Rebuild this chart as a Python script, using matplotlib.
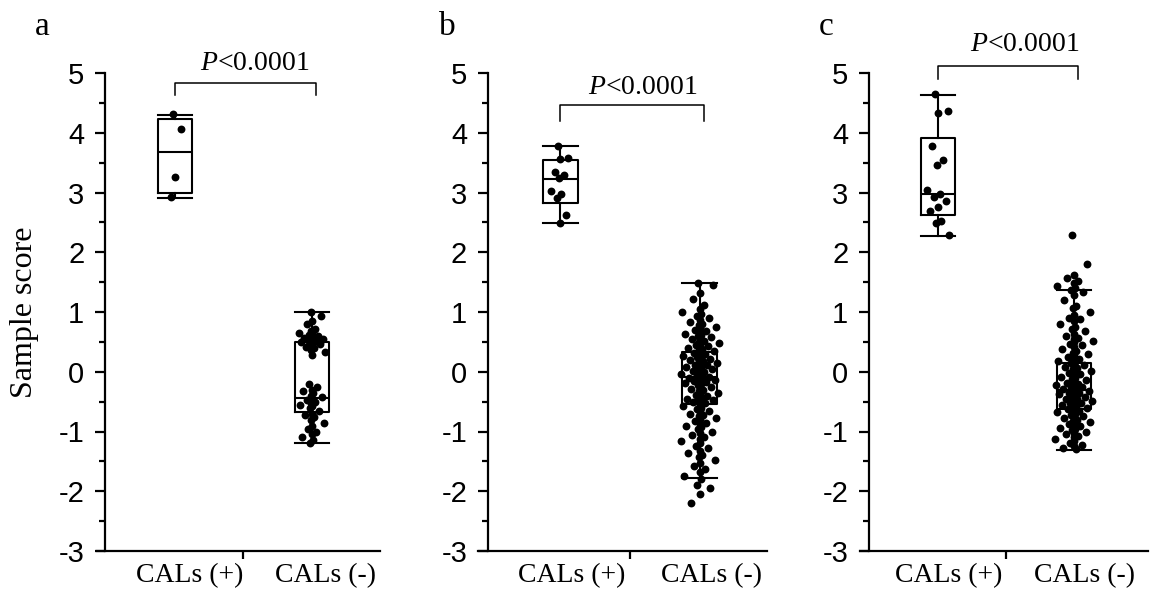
import matplotlib
matplotlib.use("Agg")
import matplotlib.pyplot as plt
import numpy as np

# ---------------- data ----------------
categories = ["CALs (+)", "CALs (-)"]
panel_letters = ["a", "b", "c"]
p_text = "$P$<0.0001"

a_pos = [4.32, 4.07, 3.26, 2.93]
a_neg = [1.0, 0.93, 0.85, 0.8, 0.72, 0.68, 0.65, 0.63, 0.62, 0.6, 0.58, 0.57, 0.56,
         0.55, 0.55, 0.54, 0.53, 0.52, 0.5, 0.5, 0.49, 0.48, 0.46, 0.45, 0.42, 0.4,
         0.37, 0.33, 0.28, -0.2, -0.25, -0.3, -0.33, -0.36, -0.4, -0.42, -0.45,
         -0.47, -0.5, -0.52, -0.55, -0.58, -0.6, -0.65, -0.7, -0.72, -0.75, -0.8,
         -0.85, -0.9, -0.95, -1.0, -1.05, -1.1, -1.15, -1.2]
b_pos = [3.78, 3.58, 3.56, 3.35, 3.30, 3.25, 3.03, 2.97, 2.90, 2.63, 2.49]
b_neg = [1.49, 1.45, 1.32, 1.22, 1.12, 1.05, 1.0,
         0.97, 0.93, 0.9, 0.86, 0.83, 0.8, 0.78, 0.75, 0.72, 0.7,
         0.68, 0.66, 0.64, 0.62, 0.6, 0.58, 0.56, 0.54, 0.52, 0.5, 0.48, 0.46, 0.45,
         0.43, 0.42, 0.4, 0.38, 0.37, 0.35, 0.34, 0.32, 0.3, 0.29, 0.27, 0.26, 0.24,
         0.22, 0.21, 0.2, 0.18, 0.17, 0.15, 0.14, 0.12, 0.11, 0.1,
         0.08, 0.07, 0.05, 0.04, 0.02, 0.01, 0.0, -0.02, -0.03, -0.05, -0.06, -0.08,
         -0.09, -0.1, -0.11, -0.12, -0.14, -0.15, -0.16, -0.17, -0.18, -0.19,
         -0.21, -0.23, -0.25, -0.27, -0.29, -0.31, -0.33, -0.35, -0.37, -0.39, -0.41,
         -0.43, -0.45, -0.46, -0.47, -0.48, -0.49, -0.5,
         -0.52, -0.55, -0.57, -0.6, -0.62, -0.65, -0.68, -0.7, -0.72, -0.74, -0.77, -0.79,
         -0.82, -0.85, -0.88, -0.9, -0.93, -0.96, -1.0, -1.03, -1.06, -1.09,
         -1.12, -1.16, -1.2, -1.24, -1.28, -1.32, -1.36, -1.39,
         -1.43, -1.48, -1.53, -1.58, -1.63, -1.68,
         -1.75, -1.8, -1.9, -1.95, -2.05, -2.19]
c_pos = [4.65, 4.37, 4.33, 3.77, 3.55, 3.46, 3.05, 2.98, 2.93, 2.86, 2.76, 2.69,
         2.53, 2.49, 2.29]
c_neg = [2.29, 1.81, 1.62, 1.57, 1.52, 1.48, 1.44, 1.4, 1.37, 1.33, 1.28, 1.2, 1.1,
         1.07, 1.0, 0.95, 0.9, 0.88, 0.85, 0.8, 0.75, 0.72, 0.68, 0.64, 0.6, 0.57,
         0.55, 0.52, 0.5, 0.47, 0.44, 0.41, 0.38, 0.35, 0.32, 0.3, 0.27, 0.25, 0.22,
         0.2, 0.18, 0.16, 0.14, 0.12, 0.1, 0.08, 0.06, 0.04, 0.02, 0.0, -0.02, -0.04,
         -0.06, -0.08, -0.1, -0.12, -0.14, -0.16, -0.18, -0.2, -0.21, -0.22, -0.24,
         -0.25, -0.26, -0.28, -0.29, -0.3, -0.31, -0.32, -0.33, -0.35, -0.36, -0.37,
         -0.38, -0.4, -0.41, -0.42, -0.44, -0.45, -0.46, -0.48, -0.49, -0.5, -0.52,
         -0.53, -0.55, -0.56, -0.58, -0.59, -0.6, -0.62, -0.63, -0.65, -0.66, -0.68,
         -0.7, -0.72, -0.74, -0.76, -0.78, -0.8, -0.82, -0.84, -0.86, -0.88, -0.9,
         -0.92, -0.94, -0.96, -0.98, -1.0, -1.02, -1.05, -1.08, -1.1, -1.13, -1.16,
         -1.19, -1.22, -1.25, -1.28, -1.3]

# box statistics: (whislo, q1, med, q3, whishi)
a_pos_box = (2.90, 3.00, 3.68, 4.23, 4.30)
a_neg_box = (-1.20, -0.67, -0.44, 0.49, 1.00)
b_pos_box = (2.49, 2.83, 3.23, 3.55, 3.78)
b_neg_box = (-1.77, -0.54, -0.08, 0.33, 1.49)
c_pos_box = (2.28, 2.63, 2.98, 3.92, 4.64)
c_neg_box = (-1.31, -0.62, -0.30, 0.15, 1.36)

# ---------------- style ----------------
plt.rcParams['mathtext.fontset'] = 'custom'
plt.rcParams['mathtext.rm'] = 'Liberation Serif'
plt.rcParams['mathtext.it'] = 'Liberation Serif:italic'
SERIF = 'Liberation Serif'
SANS = 'Liberation Sans'

fig = plt.figure(figsize=(11.52, 5.97), dpi=100)

panels = [
    dict(data=(a_pos, a_neg), boxes=(a_pos_box, a_neg_box),
         rect=[97/1152, 46/597, 283/1152, 478/597], xlim=(0.43, 2.5), spine=0.49,
         jit=(0.06, 0.10), br=(4.84, 4.64), pt=(1.58, 5.16), lab=(1.11, 2.10)),
    dict(data=(b_pos, b_neg), boxes=(b_pos_box, b_neg_box),
         rect=[478/1152, 46/597, 289/1152, 478/597], xlim=(0.414, 2.479), spine=0.486,
         jit=(0.07, 0.14), br=(4.47, 4.20), pt=(1.59, 4.76), lab=(1.08, 2.08)),
    dict(data=(c_pos, c_neg), boxes=(c_pos_box, c_neg_box),
         rect=[860/1152, 46/597, 288/1152, 478/597], xlim=(0.426, 2.544), spine=0.493,
         jit=(0.09, 0.14), br=(5.12, 4.90), pt=(1.64, 5.47), lab=(1.08, 2.08)),
]

letter_x = [42, 447, 826]

for k, p in enumerate(panels):
    ax = fig.add_axes(p['rect'])
    ax.set_xlim(*p['xlim'])
    ax.set_ylim(-3, 5)
    for s in ['top', 'right']:
        ax.spines[s].set_visible(False)
    ax.spines['left'].set_position(('data', p['spine']))
    ax.spines['left'].set_linewidth(1.6)
    ax.spines['bottom'].set_linewidth(1.6)

    stats = []
    for b in p['boxes']:
        stats.append(dict(whislo=b[0], q1=b[1], med=b[2], q3=b[3], whishi=b[4], fliers=[]))
    lp = dict(color='black', linewidth=1.5)
    ax.bxp(stats, positions=[1, 2], widths=0.25, capwidths=0.25, showfliers=False,
           boxprops=lp, whiskerprops=lp, capprops=lp, medianprops=lp, zorder=2)

    for gi, vals in enumerate(p['data']):
        n = len(vals)
        u = (np.arange(n) * 0.6180339887 + 0.31) % 1.0
        t = 2 * u - 1
        off = p['jit'][gi] * t * np.abs(t) ** (0.6 if gi == 0 else 1.6)
        ax.scatter(gi + 1 + off, vals, s=32, color='black', zorder=3, linewidths=0)

    # significance bracket
    y1, y0 = p['br']
    ax.plot([1, 1, 2.03, 2.03], [y0, y1, y1, y0], color='black', lw=1.1,
            clip_on=False, solid_joinstyle='round')
    ax.text(p['pt'][0], p['pt'][1], p_text, ha='center', va='center',
            fontsize=20, family=SERIF, clip_on=False)

    ax.set_yticks(range(-3, 6))
    ax.set_yticks(np.arange(-2.5, 5, 1.0), minor=True)
    ax.set_yticklabels([str(v) for v in range(-3, 6)], family=SANS, fontsize=21)
    ax.tick_params(axis='y', which='major', direction='out', length=7, width=1.6, pad=8)
    ax.tick_params(axis='y', which='minor', direction='out', length=4, width=1.6)

    ax.set_xticks([1.5])
    ax.set_xticklabels([''])
    ax.set_xticks(list(p['lab']), minor=True)
    ax.set_xticklabels(categories, minor=True, family=SERIF, fontsize=20)
    ax.tick_params(axis='x', which='major', direction='out', length=6, width=1.6)
    ax.tick_params(axis='x', which='minor', length=0, pad=9)

    fig.text(letter_x[k] / 1152, 1 - 27 / 597, panel_letters[k], family=SERIF,
             fontsize=24, ha='center', va='center')

fig.text(25 / 1152, 1 - 312 / 597, "Sample score", rotation=90, family=SERIF,
         fontsize=23, ha='center', va='center')

fig.savefig("out.png", dpi=100)
